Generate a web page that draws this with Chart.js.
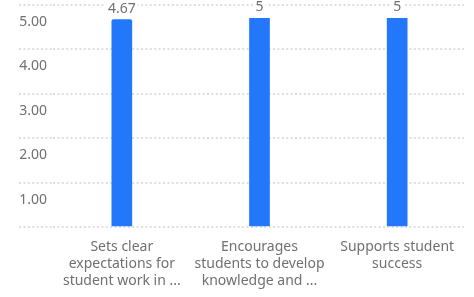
<!DOCTYPE html>
<html>
<head>
<meta charset="utf-8">
<script src="https://cdn.jsdelivr.net/npm/chart.js@4/dist/chart.umd.min.js"></script>
<style>
  body { margin: 0; background: #fff; }
  #wrap { width: 474px; height: 297px; }
</style>
</head>
<body>
<div id="wrap"><canvas id="chart" width="474" height="297"></canvas></div>
<script>
// DATA
const categories = [
  ["Sets clear", "expectations for", "student work in ..."],
  ["Encourages", "students to develop", "knowledge and ..."],
  ["Supports student", "success"]
];
const scores = [4.67, 5, 5];
const scoreLabels = ["4.67", "5", "5"];
const yTicks = [0, 1, 2, 3, 4, 5];

const textColor = "#707070";
const gridColor = "#dedede";
const fontFamily = "'Noto Sans', 'Open Sans', sans-serif";

// value labels on top of bars, with a white box over the grid dots
const valueLabels = {
  id: "valueLabels",
  afterDatasetsDraw(chart) {
    const ctx = chart.ctx;
    const clipTop = chart.chartArea.top + 13;
    const meta = chart.getDatasetMeta(0);
    ctx.save();
    ctx.font = "14px " + fontFamily;
    ctx.textAlign = "center";
    ctx.textBaseline = "middle";
    meta.data.forEach((bar, i) => {
      const txt = scoreLabels[i];
      const y = Math.max(bar.y, clipTop) - 11;
      const w = ctx.measureText(txt).width;
      ctx.fillStyle = "#fff";
      ctx.fillRect(bar.x - w / 2 - 2, y - 7, w + 4, 14);
      ctx.fillStyle = textColor;
      ctx.fillText(txt, bar.x, y);
    });
    ctx.restore();
  }
};

new Chart(document.getElementById("chart"), {
  type: "bar",
  data: {
    labels: categories,
    datasets: [{
      data: scores,
      backgroundColor: "#2277fb",
      barThickness: 20,
      borderRadius: 2,
      borderSkipped: "bottom",
      clip: { left: 0, right: 0, top: -13, bottom: 0 }
    }]
  },
  options: {
    responsive: false,
    animation: false,
    layout: { padding: { top: 5, right: 8, left: 0, bottom: 0 } },
    plugins: {
      legend: { display: false },
      tooltip: { enabled: false }
    },
    scales: {
      x: {
        grid: { display: false, drawTicks: false },
        border: { display: false },
        ticks: {
          color: textColor,
          padding: 12,
          maxRotation: 0,
          autoSkip: false,
          font: { family: fontFamily, size: 14, lineHeight: 1.2 }
        },
        afterFit(scale) { scale.height = 70; }
      },
      y: {
        min: 0,
        max: 5,
        afterBuildTicks(scale) { scale.ticks = yTicks.map(v => ({ value: v })); },
        grid: {
          color: gridColor,
          lineWidth: 2,
          drawTicks: true,
          tickLength: 34,
          tickBorderDash: [2, 2.4]
        },
        border: { display: false, dash: [2, 2.4] },
        ticks: {
          color: textColor,
          padding: -28,
          labelOffset: 17,
          font: { family: fontFamily, size: 14 },
          callback: v => (v === 0 ? "" : Number(v).toFixed(2))
        },
        afterFit(scale) { scale.width = 53; }
      }
    }
  },
  plugins: [valueLabels]
});
</script>
</body>
</html>
